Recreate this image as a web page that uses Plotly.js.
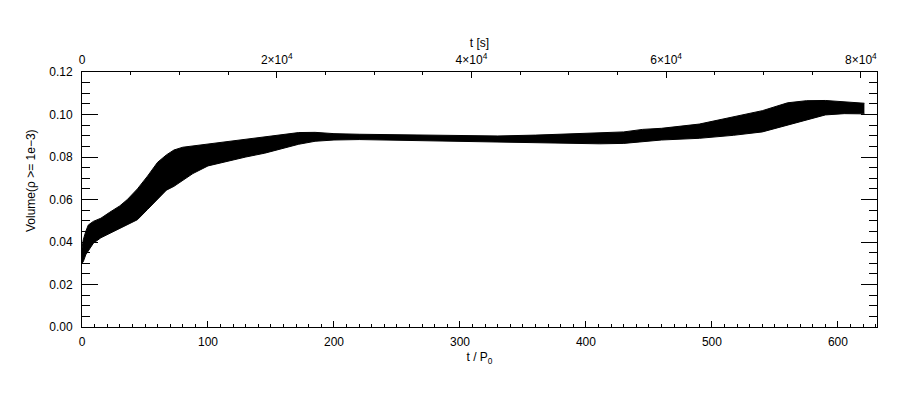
<!DOCTYPE html>
<html>
<head>
<meta charset="utf-8">
<script src="https://cdn.plot.ly/plotly-3.0.1.min.js"></script>
<style>html,body{margin:0;padding:0;background:#fff;}#chart{width:900px;height:400px;}</style>
</head>
<body>
<div id="chart"></div>
<script>
// time in units of P0
const tP0 = [0, 1, 3, 5, 9, 15, 22, 30, 36, 44, 52, 60, 67, 73, 80, 88, 100, 115, 130, 145, 160, 172, 185, 200, 220, 240, 270, 300, 330, 360, 390, 411, 430, 445, 460, 490, 517, 540, 560, 575, 590, 605, 621];
// upper envelope of the oscillating volume
const volUpper = [0.037, 0.041, 0.045, 0.048, 0.0497, 0.0512, 0.0540, 0.0570, 0.0600, 0.0650, 0.0710, 0.0775, 0.0810, 0.0833, 0.0846, 0.0852, 0.0862, 0.0872, 0.0886, 0.0895, 0.0906, 0.0915, 0.0916, 0.0910, 0.0907, 0.0905, 0.0902, 0.0900, 0.0899, 0.0903, 0.0908, 0.0912, 0.0918, 0.0930, 0.0935, 0.0955, 0.0988, 0.1018, 0.1055, 0.1065, 0.1066, 0.1060, 0.1053];
// lower envelope of the oscillating volume
const volLower = [0.030, 0.0307, 0.034, 0.036, 0.0394, 0.042, 0.044, 0.0465, 0.048, 0.0505, 0.0553, 0.0600, 0.0644, 0.0662, 0.0690, 0.0722, 0.0758, 0.0780, 0.0800, 0.0818, 0.0840, 0.0860, 0.0874, 0.0880, 0.0882, 0.0880, 0.0876, 0.0874, 0.0872, 0.0868, 0.0864, 0.0862, 0.0864, 0.0872, 0.0880, 0.0888, 0.0902, 0.0918, 0.0950, 0.0972, 0.0998, 0.1004, 0.1003];
// conversion period P0 in seconds
const P0 = 129.4;
const bottomTickVals = [0, 100, 200, 300, 400, 500, 600];
const topTickVals = [0, 20000, 40000, 60000, 80000];
const topTickText = ['0', '2×10<sup>4</sup>', '4×10<sup>4</sup>', '6×10<sup>4</sup>', '8×10<sup>4</sup>'];
const yTickVals = [0, 0.02, 0.04, 0.06, 0.08, 0.10, 0.12];

const xMax = 631;
const font = {family: 'Liberation Sans, Arial, sans-serif', size: 12, color: '#000'};

const traces = [
  {x: tP0, y: volLower, mode: 'lines', line: {color: '#000', width: 1}, hoverinfo: 'skip', showlegend: false},
  {x: tP0, y: volUpper, mode: 'lines', fill: 'tonexty', fillcolor: '#000', line: {color: '#000', width: 1}, hoverinfo: 'skip', showlegend: false},
  {x: tP0.map(t => t * P0), y: volUpper, xaxis: 'x2', mode: 'lines', line: {color: 'rgba(0,0,0,0)', width: 0}, hoverinfo: 'skip', showlegend: false}
];

const layout = {
  width: 900, height: 400,
  margin: {l: 82, r: 23, t: 72, b: 73, pad: 0},
  paper_bgcolor: '#fff', plot_bgcolor: '#fff',
  font: font,
  showlegend: false,
  xaxis: {
    range: [0, xMax], showgrid: false, zeroline: false,
    showline: true, linecolor: '#000', linewidth: 1, mirror: false,
    ticks: 'inside', ticklen: 6, tickwidth: 1, tickcolor: '#000',
    tickvals: bottomTickVals, ticktext: bottomTickVals.map(String),
    tickfont: font,
    minor: {dtick: 10, tick0: 0, ticks: 'inside', ticklen: 3, tickwidth: 1, tickcolor: '#000', showgrid: false},
    ticklabelstandoff: 4,
    title: {text: 't / P<sub>0</sub>', font: font, standoff: 4}
  },
  xaxis2: {
    overlaying: 'x', side: 'top', anchor: 'y',
    range: [0, xMax * P0], showgrid: false, zeroline: false,
    showline: true, linecolor: '#000', linewidth: 1,
    ticks: 'inside', ticklen: 6, tickwidth: 1, tickcolor: '#000',
    tickvals: topTickVals, ticktext: topTickText,
    tickfont: font,
    minor: {dtick: 5000, tick0: 0, ticks: 'inside', ticklen: 3, tickwidth: 1, tickcolor: '#000', showgrid: false},
    ticklabelstandoff: 2,
    title: {text: 't [s]', font: font, standoff: 0}
  },
  yaxis: {
    range: [0, 0.12], showgrid: false, zeroline: false,
    showline: true, linecolor: '#000', linewidth: 1, mirror: 'ticks',
    ticks: 'inside', ticklen: 16, tickwidth: 1, tickcolor: '#000',
    tickvals: yTickVals, tickformat: '.2f',
    tickfont: font,
    minor: {dtick: 0.005, tick0: 0, ticks: 'inside', ticklen: 8, tickwidth: 1, tickcolor: '#000', showgrid: false},
    ticklabelstandoff: 6
  },
  annotations: [{
    text: 'Volume(ρ >= 1e−3)', textangle: -90,
    xref: 'paper', yref: 'paper', x: (31 - 82) / 795, y: (327 - 181) / 255,
    xanchor: 'center', yanchor: 'middle', showarrow: false, font: font
  }]
};

Plotly.newPlot('chart', traces, layout, {staticPlot: true, displayModeBar: false});
</script>
</body>
</html>
